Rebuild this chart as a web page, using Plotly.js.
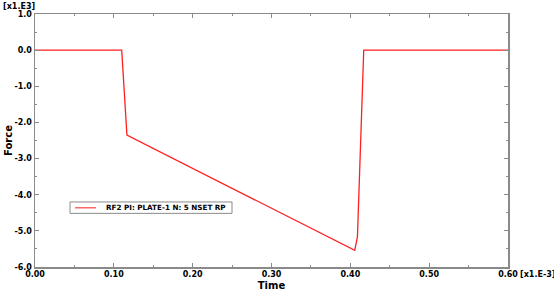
<!DOCTYPE html>
<html>
<head>
<meta charset="utf-8">
<script src="https://cdn.plot.ly/plotly-3.0.1.min.js"></script>
<style>html,body{margin:0;padding:0;background:#fff;}#chart{width:554px;height:294px;}</style>
</head>
<body>
<div id="chart"></div>
<script>
// Time [x1.E-3], Force [x1.E3]
const time  = [0.00, 0.110, 0.1166, 0.4056, 0.409, 0.417, 0.60];
const force = [0.00, 0.00, -2.35, -5.54, -5.17, 0.00, 0.00];
const seriesName = "RF2 PI: PLATE-1 N: 5 NSET RP";
const xTicks = [0.0, 0.1, 0.2, 0.3, 0.4, 0.5, 0.6];
const xTickText = ["0.00", "0.10", "0.20", "0.30", "0.40", "0.50", "0.60"];
const yTicks = [1, 0, -1, -2, -3, -4, -5, -6];
const yTickText = ["1.0", "0.0", "-1.0", "-2.0", "-3.0", "-4.0", "-5.0", "-6.0"];

const lineColor = "#ff2020";
const boldFont = {family: "DejaVu Sans", size: 8, color: "#000", weight: "bold"};
const axisCommon = {
  showgrid: false, zeroline: false, showline: true, linecolor: "#8a8a8a", linewidth: 1.5,
  mirror: "ticks", ticks: "inside", ticklen: 4, tickcolor: "#8a8a8a", tickwidth: 1,
  tickfont: boldFont,
  minor: {ticks: "inside", ticklen: 2, tickcolor: "#8a8a8a", tickwidth: 1}
};

const trace = {
  x: time, y: force, type: "scatter", mode: "lines", name: seriesName,
  line: {color: lineColor, width: 1.3}, showlegend: false
};

// legend box (drawn as rect + sample line + text)
const legY = 0.234;

const layout = {
  width: 554, height: 294,
  margin: {l: 35, r: 46, t: 14, b: 27},
  paper_bgcolor: "#fff", plot_bgcolor: "#fff",
  showlegend: false,
  xaxis: Object.assign({}, axisCommon, {
    range: [0, 0.6], tickvals: xTicks, ticktext: xTickText,
    minor: Object.assign({}, axisCommon.minor, {dtick: 0.05, tick0: 0}),
    ticklabelstandoff: -1,
    title: {text: "Time", font: {family: "DejaVu Sans", size: 10, color: "#000", weight: "bold"}, standoff: 4}
  }),
  yaxis: Object.assign({}, axisCommon, {
    range: [-6, 1], tickvals: yTicks, ticktext: yTickText,
    minor: Object.assign({}, axisCommon.minor, {dtick: 0.5, tick0: 0}),
    title: {text: "Force", font: {family: "DejaVu Sans", size: 10, color: "#000", weight: "bold"}, standoff: 0}
  }),
  shapes: [
    {type: "rect", xref: "paper", yref: "paper", x0: 0.074, x1: 0.4165, y0: 0.212, y1: 0.257,
     line: {color: "#8a8a8a", width: 1}, fillcolor: "rgba(255,255,255,0)"},
    {type: "line", xref: "paper", yref: "paper", x0: 0.0846, x1: 0.129, y0: legY, y1: legY,
     line: {color: "#ff5050", width: 1.3}}
  ],
  annotations: [
    {text: "[x1.E3]", xref: "paper", yref: "paper", x: -0.072, y: 1.057, xanchor: "left", yanchor: "top",
     showarrow: false, font: boldFont},
    {text: "[x1.E-3]", xref: "paper", yref: "paper", x: 1.022, y: -0.005, xanchor: "left", yanchor: "top",
     showarrow: false, font: boldFont},
    {text: seriesName, xref: "paper", yref: "paper", x: 0.407, y: legY, xanchor: "right", yanchor: "middle",
     showarrow: false, font: {family: "DejaVu Sans", size: 7.2, color: "#000", weight: "bold"}}
  ]
};

Plotly.newPlot("chart", [trace], layout, {displayModeBar: false, staticPlot: true});
</script>
</body>
</html>
